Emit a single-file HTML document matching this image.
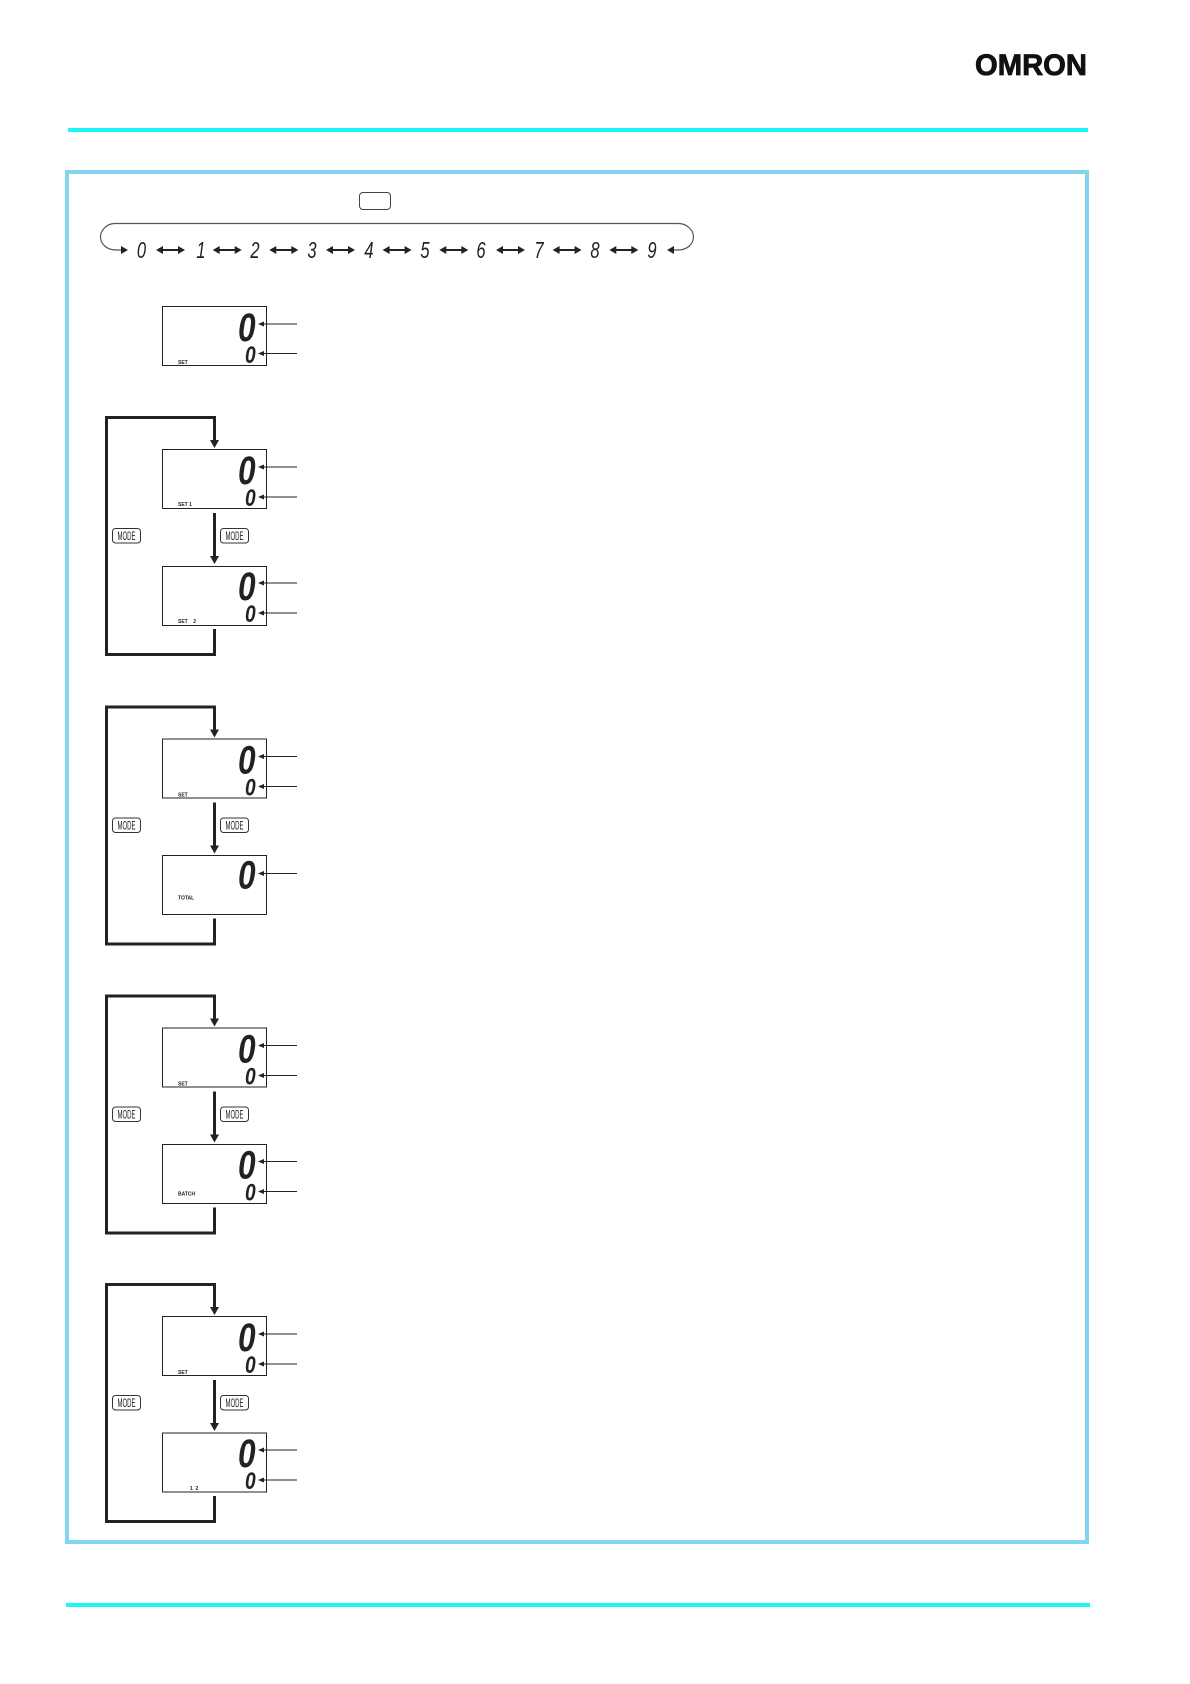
<!DOCTYPE html>
<html><head><meta charset="utf-8"><style>
html,body{margin:0;padding:0;background:#fff}
svg{display:block}
.lg{font:italic bold 40px "Liberation Sans",sans-serif;fill:#222}
.sm{font:italic bold 24px "Liberation Sans",sans-serif;fill:#222}
.rw{font:italic 23px "Liberation Sans",sans-serif;fill:#222;text-anchor:middle}
.lb{font:bold 5px "Liberation Sans",sans-serif;fill:#222}
.md{font:12px "Liberation Sans",sans-serif;fill:#222;text-anchor:middle}
</style></head><body>
<svg width="1190" height="1684" viewBox="0 0 1190 1684" xmlns="http://www.w3.org/2000/svg">
<rect width="1190" height="1684" fill="#fff"/>
<text x="975" y="75" font-family="Liberation Sans" font-weight="bold" font-size="30" textLength="112" lengthAdjust="spacingAndGlyphs" fill="#111" stroke="#111" stroke-width=".8">OMRON</text>
<rect x="68" y="128" width="1020" height="4" fill="#1df5f5"/>
<rect x="66" y="1603" width="1024" height="4" fill="#1df5f5"/>
<rect x="67" y="172" width="1020" height="1370" fill="#fff" stroke="#85d4ef" stroke-width="4"/>

<rect x="359.500" y="192.500" width="31" height="17" rx="3.500" fill="#fff" stroke="#444" stroke-width="1"/>
<path d="M115 223.500H678C688 223.500 693.500 231 693.500 237C693.500 244 687 250 678 250H672M115 223.500C106 223.500 100.500 231 100.500 237C100.500 244 107 250 116 250H123" fill="none" stroke="#555" stroke-width="1.200"/>
<path d="M121 246L128 250L121 254ZM674 246L667 250L674 254Z" fill="#222"/>
<g class="rw" transform="translate(0,258)">
<text class="rw" transform="translate(141.500,0) scale(.72,1)">0</text>
<text class="rw" transform="translate(201,0) scale(.72,1)">1</text>
<text class="rw" transform="translate(255,0) scale(.72,1)">2</text>
<text class="rw" transform="translate(312,0) scale(.72,1)">3</text>
<text class="rw" transform="translate(369,0) scale(.72,1)">4</text>
<text class="rw" transform="translate(425,0) scale(.72,1)">5</text>
<text class="rw" transform="translate(481,0) scale(.72,1)">6</text>
<text class="rw" transform="translate(539,0) scale(.72,1)">7</text>
<text class="rw" transform="translate(595,0) scale(.72,1)">8</text>
<text class="rw" transform="translate(652,0) scale(.72,1)">9</text>
</g>
<g fill="#222" stroke="none">
<path d="M156 250l7-4v3h15v-3l7 4-7 4v-3h-15v3z"/>
<path d="M212.700 250l7-4v3h15v-3l7 4-7 4v-3h-15v3z"/>
<path d="M269.300 250l7-4v3h15v-3l7 4-7 4v-3h-15v3z"/>
<path d="M326 250l7-4v3h15v-3l7 4-7 4v-3h-15v3z"/>
<path d="M382.600 250l7-4v3h15v-3l7 4-7 4v-3h-15v3z"/>
<path d="M439.300 250l7-4v3h15v-3l7 4-7 4v-3h-15v3z"/>
<path d="M496 250l7-4v3h15v-3l7 4-7 4v-3h-15v3z"/>
<path d="M552.600 250l7-4v3h15v-3l7 4-7 4v-3h-15v3z"/>
<path d="M609.300 250l7-4v3h15v-3l7 4-7 4v-3h-15v3z"/>
</g>

<!-- single display -->
<g transform="translate(0,-143)">
<rect x="162.500" y="449.500" width="104" height="59" fill="none" stroke="#222" stroke-width="1"/>
<text class="lg" transform="translate(238,484) scale(.79,1)">0</text>
<text class="sm" transform="translate(245,506) scale(.8,1)">0</text>
<text class="lb" x="178" y="507">SET</text>
<path d="M264 467H297M264 496.500H297" stroke="#222" stroke-width="1" fill="none"/>
<path d="M258 467l6-2.500v5zM258 496.500l6-2.500v5z" fill="#222"/>
</g>

<!-- group 1 -->
<g>
<path d="M214.500 441V417.500H106.500V654.500H214.500V629M214.500 513V557" fill="none" stroke="#222" stroke-width="3"/>
<path d="M210 440H219L214.500 448ZM210 556H219L214.500 564Z" fill="#222"/>
<rect x="112.500" y="528.500" width="28" height="14.500" rx="3" fill="#fff" stroke="#333"/>
<rect x="220.500" y="528.500" width="28" height="14.500" rx="3" fill="#fff" stroke="#333"/>
<text class="md" x="126.500" y="540" textLength="18" lengthAdjust="spacingAndGlyphs">MODE</text>
<text class="md" x="234.500" y="540" textLength="18" lengthAdjust="spacingAndGlyphs">MODE</text>
<rect x="162.500" y="449.500" width="104" height="59" fill="#fff" stroke="#222"/>
<rect x="162.500" y="566.500" width="104" height="59" fill="#fff" stroke="#222"/>
<text class="lg" transform="translate(238,484) scale(.79,1)">0</text>
<text class="sm" transform="translate(245,506) scale(.8,1)">0</text>
<text class="lg" transform="translate(238,600) scale(.79,1)">0</text>
<text class="sm" transform="translate(245,622) scale(.8,1)">0</text>
<text class="lb" x="178" y="506">SET 1</text>
<text class="lb" x="178" y="623" xml:space="preserve">SET    2</text>
<path d="M264 467H297M264 497H297M264 583H297M264 613H297" stroke="#222" fill="none"/>
<path d="M258 467l6-2.500v5zM258 497l6-2.500v5zM258 583l6-2.500v5zM258 613l6-2.500v5z" fill="#222"/>
</g>

<!-- group 2 -->
<g transform="translate(0,289.500)">
<path d="M214.500 441V417.500H106.500V654.500H214.500V629M214.500 513V557" fill="none" stroke="#222" stroke-width="3"/>
<path d="M210 440H219L214.500 448ZM210 556H219L214.500 564Z" fill="#222"/>
<rect x="112.500" y="528.500" width="28" height="14.500" rx="3" fill="#fff" stroke="#333"/>
<rect x="220.500" y="528.500" width="28" height="14.500" rx="3" fill="#fff" stroke="#333"/>
<text class="md" x="126.500" y="540" textLength="18" lengthAdjust="spacingAndGlyphs">MODE</text>
<text class="md" x="234.500" y="540" textLength="18" lengthAdjust="spacingAndGlyphs">MODE</text>
<rect x="162.500" y="449.500" width="104" height="59" fill="#fff" stroke="#222"/>
<rect x="162.500" y="566" width="104" height="59" fill="#fff" stroke="#222"/>
<text class="lg" transform="translate(238,484) scale(.79,1)">0</text>
<text class="sm" transform="translate(245,506) scale(.8,1)">0</text>
<text class="lg" transform="translate(238,599) scale(.79,1)">0</text>
<text class="lb" x="178" y="507">SET</text>
<text class="lb" x="178" y="610">TOTAL</text>
<path d="M264 467H297M264 497H297M264 584H297" stroke="#222" fill="none"/>
<path d="M258 467l6-2.500v5zM258 497l6-2.500v5zM258 584l6-2.500v5z" fill="#222"/>
</g>

<!-- group 3 -->
<g transform="translate(0,578.500)">
<path d="M214.500 441V417.500H106.500V654.500H214.500V629M214.500 513V557" fill="none" stroke="#222" stroke-width="3"/>
<path d="M210 440H219L214.500 448ZM210 556H219L214.500 564Z" fill="#222"/>
<rect x="112.500" y="528.500" width="28" height="14.500" rx="3" fill="#fff" stroke="#333"/>
<rect x="220.500" y="528.500" width="28" height="14.500" rx="3" fill="#fff" stroke="#333"/>
<text class="md" x="126.500" y="540" textLength="18" lengthAdjust="spacingAndGlyphs">MODE</text>
<text class="md" x="234.500" y="540" textLength="18" lengthAdjust="spacingAndGlyphs">MODE</text>
<rect x="162.500" y="449.500" width="104" height="59" fill="#fff" stroke="#222"/>
<rect x="162.500" y="566" width="104" height="59" fill="#fff" stroke="#222"/>
<text class="lg" transform="translate(238,484) scale(.79,1)">0</text>
<text class="sm" transform="translate(245,506) scale(.8,1)">0</text>
<text class="lg" transform="translate(238,600) scale(.79,1)">0</text>
<text class="sm" transform="translate(245,622) scale(.8,1)">0</text>
<text class="lb" x="178" y="507">SET</text>
<text class="lb" x="178" y="617">BATCH</text>
<path d="M264 467H297M264 497H297M264 583H297M264 613H297" stroke="#222" fill="none"/>
<path d="M258 467l6-2.500v5zM258 497l6-2.500v5zM258 583l6-2.500v5zM258 613l6-2.500v5z" fill="#222"/>
</g>

<!-- group 4 -->
<g transform="translate(0,867)">
<path d="M214.500 441V417.500H106.500V654.500H214.500V629M214.500 513V557" fill="none" stroke="#222" stroke-width="3"/>
<path d="M210 440H219L214.500 448ZM210 556H219L214.500 564Z" fill="#222"/>
<rect x="112.500" y="528.500" width="28" height="14.500" rx="3" fill="#fff" stroke="#333"/>
<rect x="220.500" y="528.500" width="28" height="14.500" rx="3" fill="#fff" stroke="#333"/>
<text class="md" x="126.500" y="540" textLength="18" lengthAdjust="spacingAndGlyphs">MODE</text>
<text class="md" x="234.500" y="540" textLength="18" lengthAdjust="spacingAndGlyphs">MODE</text>
<rect x="162.500" y="449.500" width="104" height="59" fill="#fff" stroke="#222"/>
<rect x="162.500" y="566" width="104" height="59" fill="#fff" stroke="#222"/>
<text class="lg" transform="translate(238,484) scale(.79,1)">0</text>
<text class="sm" transform="translate(245,506) scale(.8,1)">0</text>
<text class="lg" transform="translate(238,600) scale(.79,1)">0</text>
<text class="sm" transform="translate(245,622) scale(.8,1)">0</text>
<text class="lb" x="178" y="507">SET</text>
<text class="lb" x="190" y="623" xml:space="preserve">1  2</text>
<path d="M264 467H297M264 497H297M264 583H297M264 613H297" stroke="#222" fill="none"/>
<path d="M258 467l6-2.500v5zM258 497l6-2.500v5zM258 583l6-2.500v5zM258 613l6-2.500v5z" fill="#222"/>
</g>
</svg>
</body></html>
